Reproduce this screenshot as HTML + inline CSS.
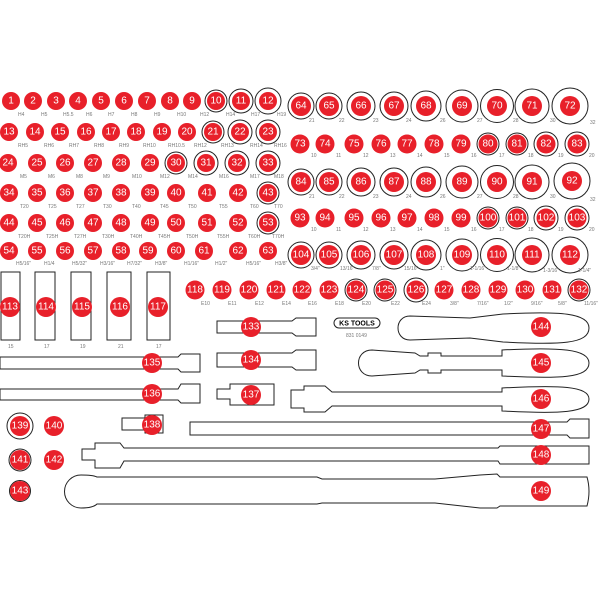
<!DOCTYPE html>
<html><head><meta charset="utf-8"><style>
html,body{margin:0;padding:0;background:#fff}
svg{display:block}
.n{font-family:"Liberation Sans",sans-serif;font-size:10px;fill:#fff;text-anchor:middle;dominant-baseline:central}
.l{font-family:"Liberation Sans",sans-serif;font-size:5px;fill:#777}
.r{fill:#e8202a}
.o{fill:none;stroke:#222;stroke-width:1}
.s{fill:#fff;stroke:#222;stroke-width:1}
</style></head><body>
<svg width="600" height="600" viewBox="0 0 600 600" xmlns="http://www.w3.org/2000/svg">
<!-- outline rings -->
<g class="o">
<circle cx="216" cy="101" r="11"/><circle cx="241" cy="101" r="12"/><circle cx="268" cy="101" r="13"/>
<circle cx="213" cy="132" r="11"/><circle cx="240" cy="132" r="12"/><circle cx="268" cy="132" r="12"/>
<circle cx="176" cy="163" r="11"/><circle cx="206" cy="163" r="12"/><circle cx="237" cy="163" r="12"/><circle cx="268" cy="163" r="12"/>
<circle cx="268" cy="193" r="11"/><circle cx="268" cy="223" r="11"/>
<circle cx="301" cy="106" r="13"/><circle cx="329" cy="106" r="13"/><circle cx="361" cy="106" r="14"/><circle cx="394" cy="106" r="14"/><circle cx="426" cy="106" r="15"/><circle cx="462" cy="106" r="16"/><circle cx="497" cy="106" r="16.5"/><circle cx="532" cy="106" r="17"/><circle cx="570" cy="106" r="18"/>
<circle cx="488" cy="144" r="11"/><circle cx="517" cy="144" r="11"/><circle cx="546" cy="144" r="12"/><circle cx="577" cy="144" r="12"/>
<circle cx="301" cy="182" r="13"/><circle cx="329" cy="182" r="13"/><circle cx="361" cy="182" r="14"/><circle cx="394" cy="182" r="14"/><circle cx="426" cy="182" r="15"/><circle cx="462" cy="182" r="16"/><circle cx="497" cy="182" r="16.5"/><circle cx="532" cy="182" r="17"/><circle cx="572" cy="181" r="18"/>
<circle cx="488" cy="218" r="11"/><circle cx="517" cy="218" r="11"/><circle cx="546" cy="218" r="12"/><circle cx="577" cy="218" r="12"/>
<circle cx="301" cy="255" r="13"/><circle cx="329" cy="255" r="13"/><circle cx="361" cy="255" r="14"/><circle cx="394" cy="255" r="14"/><circle cx="426" cy="255" r="15"/><circle cx="462" cy="255" r="16"/><circle cx="497" cy="255" r="16.5"/><circle cx="532" cy="255" r="17"/><circle cx="570" cy="255" r="18"/>
<circle cx="356" cy="290" r="11"/><circle cx="385" cy="290" r="11"/><circle cx="416" cy="290" r="12"/><circle cx="579" cy="290" r="11"/>
<circle cx="20" cy="426" r="13"/><circle cx="20" cy="460" r="11"/><circle cx="20" cy="491" r="10.5"/>
</g>
<!-- tool outlines -->
<g class="s">
<rect x="1" y="272" width="19" height="68"/><rect x="35" y="272" width="20" height="68"/><rect x="71" y="272" width="20" height="68"/><rect x="107" y="272" width="24" height="68"/><rect x="147" y="272" width="23" height="68"/>
<path d="M217,321 L292,321 L296,318 L316,318 L316,336 L296,336 L292,333 L217,333 Z"/>
<path d="M217,353 L292,353 L296,350 L316,350 L316,370 L296,370 L292,367 L217,367 Z"/>
<path d="M217,389 L230,389 L230,384 L274,384 L274,405 L230,405 L230,399 L217,399 Z"/>
<path d="M0,357 L178,357 L181,354 L200,354 L200,372 L181,372 L178,369 L0,369 Z"/>
<path d="M0,389 L178,389 L181,384 L200,384 L200,403 L181,403 L178,400 L0,400 Z"/>
<path d="M122,418 L145,418 L145,415 L163,415 L163,433 L145,433 L145,430 L122,430 Z"/>
<path d="M190,422 L567,422 L570,419 L589,419 L589,438 L570,438 L567,435 L190,435 Z"/>
<path d="M82,449 L95,449 L95,443 L120,443 L124,448 L498,448 L500,446 L589,446 L589,464 L500,464 L498,461 L124,461 L120,468 L95,468 L95,460 L82,460 Z"/>
<path d="M97,477 L317,477 L322,479 L435,479 L480,475 L497,474 L500,477 L587,477 Q591,491 587,506 L500,506 L497,508 L480,508 L435,503 L322,503 L317,504 L97,504 Q93,508 81,508 A16,16 0 0 1 81,475 Q93,475 97,477 Z"/>
<path d="M410,316 L470,318 L503,314 C560,311 589,313 589,328 C589,344 560,345 503,342 L470,338 L410,340 C394,340 394,316 410,316 Z"/>
<path d="M372,350 L415,353 L420,356 L428,356 L428,353 L441,353 L441,356 L502,356 L502,350 C560,347 589,349 589,363 C589,378 560,379 502,376 L502,370 L441,370 L441,373 L428,373 L428,370 L420,370 L415,373 L372,376 C354,376 354,350 372,350 Z"/>
<path d="M291,390 L304,390 L304,386 L325,386 L332,392 L502,392 L502,388 C560,385 589,386 589,399 C589,413 560,414 502,411 L502,406 L332,406 L325,412 L304,412 L304,408 L291,408 Z"/>
<rect x="334" y="318" width="46" height="10" rx="5"/>
</g>
<text x="357" y="325.5" style="font-family:'Liberation Sans',sans-serif;font-size:7px;font-weight:bold;text-anchor:middle">KS TOOLS</text>
<text x="346" y="337" class="l">831 0149</text>
<!-- red circles -->
<g class="r">
<circle cx="11" cy="101" r="9"/><circle cx="33" cy="101" r="9"/><circle cx="56" cy="101" r="9"/><circle cx="78" cy="101" r="9"/><circle cx="101" cy="101" r="9"/><circle cx="124" cy="101" r="9"/><circle cx="147" cy="101" r="9"/><circle cx="170" cy="101" r="9"/><circle cx="192" cy="101" r="9"/><circle cx="216" cy="101" r="9"/><circle cx="241" cy="101" r="9"/><circle cx="268" cy="101" r="9"/>
<circle cx="9" cy="132" r="9"/><circle cx="35" cy="132" r="9"/><circle cx="60" cy="132" r="9"/><circle cx="86" cy="132" r="9"/><circle cx="111" cy="132" r="9"/><circle cx="136" cy="132" r="9"/><circle cx="162" cy="132" r="9"/><circle cx="187" cy="132" r="9"/><circle cx="213" cy="132" r="9"/><circle cx="240" cy="132" r="9"/><circle cx="268" cy="132" r="9"/>
<circle cx="8" cy="163" r="9"/><circle cx="37" cy="163" r="9"/><circle cx="65" cy="163" r="9"/><circle cx="93" cy="163" r="9"/><circle cx="121" cy="163" r="9"/><circle cx="150" cy="163" r="9"/><circle cx="176" cy="163" r="9"/><circle cx="206" cy="163" r="9"/><circle cx="237" cy="163" r="9"/><circle cx="268" cy="163" r="9"/>
<circle cx="9" cy="193" r="9"/><circle cx="37" cy="193" r="9"/><circle cx="65" cy="193" r="9"/><circle cx="93" cy="193" r="9"/><circle cx="121" cy="193" r="9"/><circle cx="150" cy="193" r="9"/><circle cx="176" cy="193" r="9"/><circle cx="207" cy="193" r="9"/><circle cx="238" cy="193" r="9"/><circle cx="268" cy="193" r="9"/>
<circle cx="9" cy="223" r="9"/><circle cx="37" cy="223" r="9"/><circle cx="65" cy="223" r="9"/><circle cx="93" cy="223" r="9"/><circle cx="121" cy="223" r="9"/><circle cx="150" cy="223" r="9"/><circle cx="176" cy="223" r="9"/><circle cx="207" cy="223" r="9"/><circle cx="238" cy="223" r="9"/><circle cx="268" cy="223" r="9"/>
<circle cx="9" cy="251" r="9"/><circle cx="37" cy="251" r="9"/><circle cx="65" cy="251" r="9"/><circle cx="93" cy="251" r="9"/><circle cx="121" cy="251" r="9"/><circle cx="148" cy="251" r="9"/><circle cx="176" cy="251" r="9"/><circle cx="204" cy="251" r="9"/><circle cx="238" cy="251" r="9"/><circle cx="268" cy="251" r="9"/>
<circle cx="301" cy="106" r="10"/><circle cx="329" cy="106" r="10"/><circle cx="361" cy="106" r="10"/><circle cx="394" cy="106" r="10"/><circle cx="426" cy="106" r="10"/><circle cx="462" cy="106" r="10"/><circle cx="497" cy="106" r="10"/><circle cx="532" cy="106" r="10"/><circle cx="570" cy="106" r="10"/>
<circle cx="300" cy="144" r="9.5"/><circle cx="325" cy="144" r="9.5"/><circle cx="354" cy="144" r="9.5"/><circle cx="381" cy="144" r="9.5"/><circle cx="407" cy="144" r="9.5"/><circle cx="434" cy="144" r="9.5"/><circle cx="461" cy="144" r="9.5"/><circle cx="488" cy="144" r="9.5"/><circle cx="517" cy="144" r="9.5"/><circle cx="546" cy="144" r="9.5"/><circle cx="577" cy="144" r="9.5"/>
<circle cx="301" cy="182" r="10"/><circle cx="329" cy="182" r="10"/><circle cx="361" cy="182" r="10"/><circle cx="394" cy="182" r="10"/><circle cx="426" cy="182" r="10"/><circle cx="462" cy="182" r="10"/><circle cx="497" cy="182" r="10"/><circle cx="532" cy="182" r="10"/><circle cx="572" cy="181" r="10"/>
<circle cx="300" cy="218" r="9.5"/><circle cx="325" cy="218" r="9.5"/><circle cx="354" cy="218" r="9.5"/><circle cx="381" cy="218" r="9.5"/><circle cx="407" cy="218" r="9.5"/><circle cx="434" cy="218" r="9.5"/><circle cx="461" cy="218" r="9.5"/><circle cx="488" cy="218" r="9.5"/><circle cx="517" cy="218" r="9.5"/><circle cx="546" cy="218" r="9.5"/><circle cx="577" cy="218" r="9.5"/>
<circle cx="301" cy="255" r="10"/><circle cx="329" cy="255" r="10"/><circle cx="361" cy="255" r="10"/><circle cx="394" cy="255" r="10"/><circle cx="426" cy="255" r="10"/><circle cx="462" cy="255" r="10"/><circle cx="497" cy="255" r="10"/><circle cx="532" cy="255" r="10"/><circle cx="570" cy="255" r="10"/>
<circle cx="10" cy="307" r="10"/><circle cx="46" cy="307" r="10"/><circle cx="82" cy="307" r="10"/><circle cx="120" cy="307" r="10"/><circle cx="158" cy="307" r="10"/>
<circle cx="195" cy="290" r="9.5"/><circle cx="222" cy="290" r="9.5"/><circle cx="249" cy="290" r="9.5"/><circle cx="276" cy="290" r="9.5"/><circle cx="302" cy="290" r="9.5"/><circle cx="329" cy="290" r="9.5"/><circle cx="356" cy="290" r="9.5"/><circle cx="385" cy="290" r="9.5"/><circle cx="416" cy="290" r="9.5"/><circle cx="444" cy="290" r="9.5"/><circle cx="471" cy="290" r="9.5"/><circle cx="498" cy="290" r="9.5"/><circle cx="525" cy="290" r="9.5"/><circle cx="552" cy="290" r="9.5"/><circle cx="579" cy="290" r="9.5"/>
<circle cx="251" cy="327" r="10"/><circle cx="251" cy="360" r="10"/><circle cx="152" cy="363" r="10"/><circle cx="152" cy="394" r="10"/><circle cx="251" cy="395" r="10"/><circle cx="152" cy="425" r="10"/>
<circle cx="20" cy="426" r="10"/><circle cx="54" cy="426" r="10"/><circle cx="20" cy="460" r="10"/><circle cx="54" cy="460" r="10"/><circle cx="20" cy="491" r="10"/>
<circle cx="541" cy="327" r="10"/><circle cx="541" cy="363" r="10"/><circle cx="541" cy="399" r="10"/><circle cx="541" cy="429" r="10"/><circle cx="541" cy="455" r="10"/><circle cx="541" cy="491" r="10"/>
</g>
<g class="n">
<text x="11" y="101">1</text><text x="33" y="101">2</text><text x="56" y="101">3</text><text x="78" y="101">4</text><text x="101" y="101">5</text><text x="124" y="101">6</text><text x="147" y="101">7</text><text x="170" y="101">8</text><text x="192" y="101">9</text><text x="216" y="101">10</text><text x="241" y="101">11</text><text x="268" y="101">12</text>
<text x="9" y="132">13</text><text x="35" y="132">14</text><text x="60" y="132">15</text><text x="86" y="132">16</text><text x="111" y="132">17</text><text x="136" y="132">18</text><text x="162" y="132">19</text><text x="187" y="132">20</text><text x="213" y="132">21</text><text x="240" y="132">22</text><text x="268" y="132">23</text>
<text x="8" y="163">24</text><text x="37" y="163">25</text><text x="65" y="163">26</text><text x="93" y="163">27</text><text x="121" y="163">28</text><text x="150" y="163">29</text><text x="176" y="163">30</text><text x="206" y="163">31</text><text x="237" y="163">32</text><text x="268" y="163">33</text>
<text x="9" y="193">34</text><text x="37" y="193">35</text><text x="65" y="193">36</text><text x="93" y="193">37</text><text x="121" y="193">38</text><text x="150" y="193">39</text><text x="176" y="193">40</text><text x="207" y="193">41</text><text x="238" y="193">42</text><text x="268" y="193">43</text>
<text x="9" y="223">44</text><text x="37" y="223">45</text><text x="65" y="223">46</text><text x="93" y="223">47</text><text x="121" y="223">48</text><text x="150" y="223">49</text><text x="176" y="223">50</text><text x="207" y="223">51</text><text x="238" y="223">52</text><text x="268" y="223">53</text>
<text x="9" y="251">54</text><text x="37" y="251">55</text><text x="65" y="251">56</text><text x="93" y="251">57</text><text x="121" y="251">58</text><text x="148" y="251">59</text><text x="176" y="251">60</text><text x="204" y="251">61</text><text x="238" y="251">62</text><text x="268" y="251">63</text>
<text x="301" y="106">64</text><text x="329" y="106">65</text><text x="361" y="106">66</text><text x="394" y="106">67</text><text x="426" y="106">68</text><text x="462" y="106">69</text><text x="497" y="106">70</text><text x="532" y="106">71</text><text x="570" y="106">72</text>
<text x="300" y="144">73</text><text x="325" y="144">74</text><text x="354" y="144">75</text><text x="381" y="144">76</text><text x="407" y="144">77</text><text x="434" y="144">78</text><text x="461" y="144">79</text><text x="488" y="144">80</text><text x="517" y="144">81</text><text x="546" y="144">82</text><text x="577" y="144">83</text>
<text x="301" y="182">84</text><text x="329" y="182">85</text><text x="361" y="182">86</text><text x="394" y="182">87</text><text x="426" y="182">88</text><text x="462" y="182">89</text><text x="497" y="182">90</text><text x="532" y="182">91</text><text x="572" y="181">92</text>
<text x="300" y="218">93</text><text x="325" y="218">94</text><text x="354" y="218">95</text><text x="381" y="218">96</text><text x="407" y="218">97</text><text x="434" y="218">98</text><text x="461" y="218">99</text><text x="488" y="218">100</text><text x="517" y="218">101</text><text x="546" y="218">102</text><text x="577" y="218">103</text>
<text x="301" y="255">104</text><text x="329" y="255">105</text><text x="361" y="255">106</text><text x="394" y="255">107</text><text x="426" y="255">108</text><text x="462" y="255">109</text><text x="497" y="255">110</text><text x="532" y="255">111</text><text x="570" y="255">112</text>
<text x="10" y="307">113</text><text x="46" y="307">114</text><text x="82" y="307">115</text><text x="120" y="307">116</text><text x="158" y="307">117</text>
<text x="195" y="290">118</text><text x="222" y="290">119</text><text x="249" y="290">120</text><text x="276" y="290">121</text><text x="302" y="290">122</text><text x="329" y="290">123</text><text x="356" y="290">124</text><text x="385" y="290">125</text><text x="416" y="290">126</text><text x="444" y="290">127</text><text x="471" y="290">128</text><text x="498" y="290">129</text><text x="525" y="290">130</text><text x="552" y="290">131</text><text x="579" y="290">132</text>
<text x="251" y="327">133</text><text x="251" y="360">134</text><text x="152" y="363">135</text><text x="152" y="394">136</text><text x="251" y="395">137</text><text x="152" y="425">138</text>
<text x="20" y="426">139</text><text x="54" y="426">140</text><text x="20" y="460">141</text><text x="54" y="460">142</text><text x="20" y="491">143</text>
<text x="541" y="327">144</text><text x="541" y="363">145</text><text x="541" y="399">146</text><text x="541" y="429">147</text><text x="541" y="455">148</text><text x="541" y="491">149</text>
</g>
<g class="l">
<text x="18" y="116">H4</text><text x="41" y="116">H5</text><text x="63" y="116">H5.5</text><text x="86" y="116">H6</text><text x="108" y="116">H7</text><text x="131" y="116">H8</text><text x="154" y="116">H9</text><text x="177" y="116">H10</text><text x="200" y="116">H12</text><text x="226" y="116">H14</text><text x="251" y="116">H17</text><text x="277" y="116">H19</text>
<text x="18" y="147">RH5</text><text x="44" y="147">RH6</text><text x="69" y="147">RH7</text><text x="94" y="147">RH8</text><text x="119" y="147">RH9</text><text x="143" y="147">RH10</text><text x="168" y="147">RH10.5</text><text x="194" y="147">RH12</text><text x="221" y="147">RH13</text><text x="250" y="147">RH14</text><text x="274" y="147">RH16</text>
<text x="20" y="178">M5</text><text x="48" y="178">M6</text><text x="76" y="178">M8</text><text x="103" y="178">M9</text><text x="132" y="178">M10</text><text x="160" y="178">M12</text><text x="188" y="178">M14</text><text x="219" y="178">M16</text><text x="250" y="178">M17</text><text x="274" y="178">M18</text>
<text x="20" y="208">T20</text><text x="48" y="208">T25</text><text x="76" y="208">T27</text><text x="103" y="208">T30</text><text x="132" y="208">T40</text><text x="160" y="208">T45</text><text x="188" y="208">T50</text><text x="219" y="208">T55</text><text x="250" y="208">T60</text><text x="274" y="208">T70</text>
<text x="18" y="238">T20H</text><text x="46" y="238">T25H</text><text x="74" y="238">T27H</text><text x="102" y="238">T30H</text><text x="130" y="238">T40H</text><text x="158" y="238">T45H</text><text x="186" y="238">T50H</text><text x="217" y="238">T55H</text><text x="248" y="238">T60H</text><text x="272" y="238">T70H</text>
<text x="16" y="265">H5/16"</text><text x="44" y="265">H1/4</text><text x="72" y="265">H5/32"</text><text x="100" y="265">H3/16"</text><text x="127" y="265">H7/32"</text><text x="155" y="265">H3/8"</text><text x="184" y="265">H1/16"</text><text x="215" y="265">H1/2"</text><text x="246" y="265">H5/16"</text><text x="275" y="265">H3/8"</text>
<text x="309" y="122">21</text><text x="339" y="122">22</text><text x="373" y="122">23</text><text x="406" y="122">24</text><text x="440" y="122">26</text><text x="477" y="122">27</text><text x="513" y="122">28</text><text x="550" y="122">30</text><text x="590" y="124">32</text>
<text x="311" y="157">10</text><text x="336" y="157">11</text><text x="363" y="157">12</text><text x="390" y="157">13</text><text x="417" y="157">14</text><text x="444" y="157">15</text><text x="471" y="157">16</text><text x="499" y="157">17</text><text x="528" y="157">18</text><text x="558" y="157">19</text><text x="589" y="157">20</text>
<text x="309" y="198">21</text><text x="339" y="198">22</text><text x="373" y="198">23</text><text x="406" y="198">24</text><text x="440" y="198">26</text><text x="477" y="198">27</text><text x="513" y="198">28</text><text x="550" y="198">30</text><text x="590" y="201">32</text>
<text x="311" y="231">10</text><text x="336" y="231">11</text><text x="363" y="231">12</text><text x="390" y="231">13</text><text x="417" y="231">14</text><text x="444" y="231">15</text><text x="471" y="231">16</text><text x="499" y="231">17</text><text x="528" y="231">18</text><text x="558" y="231">19</text><text x="589" y="231">20</text>
<text x="311" y="270">3/4"</text><text x="340" y="270">13/16"</text><text x="372" y="270">7/8"</text><text x="404" y="270">15/16"</text><text x="440" y="270">1"</text><text x="470" y="270">1-1/16"</text><text x="507" y="270">1-1/8"</text><text x="543" y="272">1-3/16"</text><text x="578" y="272">1-1/4"</text>
<text x="8" y="348">15</text><text x="44" y="348">17</text><text x="80" y="348">19</text><text x="118" y="348">21</text><text x="156" y="348">17</text>
<text x="201" y="305">E10</text><text x="228" y="305">E11</text><text x="255" y="305">E12</text><text x="282" y="305">E14</text><text x="308" y="305">E16</text><text x="335" y="305">E18</text><text x="362" y="305">E20</text><text x="391" y="305">E22</text><text x="422" y="305">E24</text><text x="450" y="305">3/8"</text><text x="477" y="305">7/16"</text><text x="504" y="305">1/2"</text><text x="531" y="305">9/16"</text><text x="558" y="305">5/8"</text><text x="584" y="305">11/16"</text>
</g>
</svg>
</body></html>
